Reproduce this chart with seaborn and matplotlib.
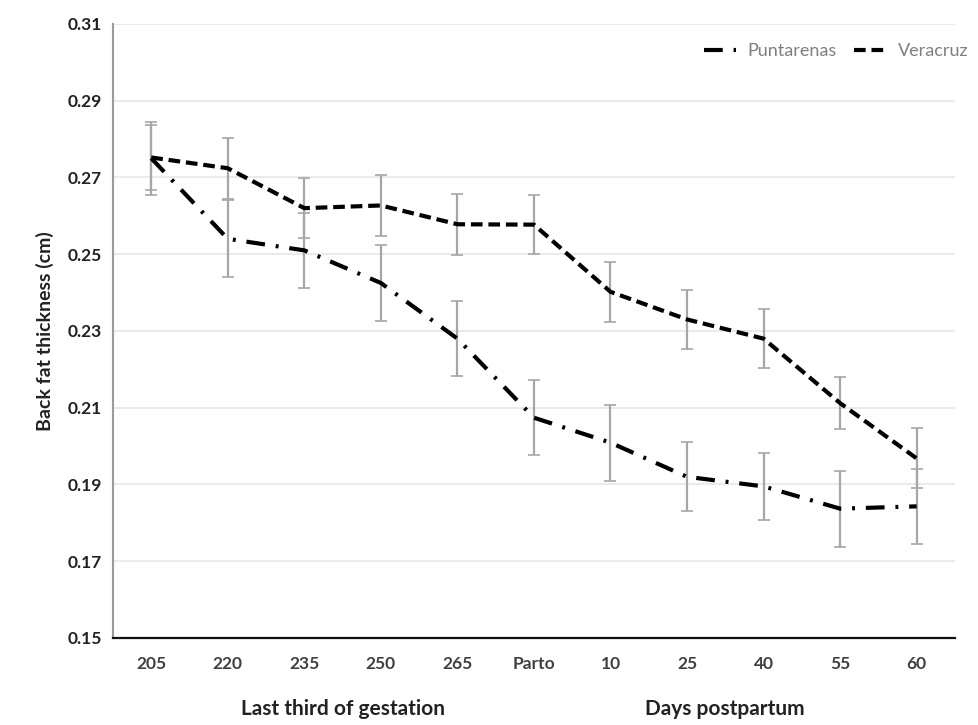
import numpy as np
import pandas as pd
import matplotlib
matplotlib.use('Agg')
import matplotlib.pyplot as plt
import seaborn as sns

# Data
days = ['205', '220', '235', '250', '265', 'Parto', '10', '25', '40', '55', '60']
puntarenas = [0.275, 0.254, 0.251, 0.2425, 0.228, 0.2074, 0.2009, 0.192, 0.1895, 0.1837, 0.1843]
puntarenas_err = [0.0095, 0.010, 0.0097, 0.010, 0.0097, 0.0098, 0.0099, 0.009, 0.0087, 0.0099, 0.0098]
veracruz = [0.2752, 0.2724, 0.2620, 0.2627, 0.2578, 0.2577, 0.2402, 0.2330, 0.2280, 0.2112, 0.1968]
veracruz_err = [0.0085, 0.0080, 0.0078, 0.0080, 0.0080, 0.0077, 0.0078, 0.0077, 0.0077, 0.0068, 0.0078]
yticks = [0.15, 0.17, 0.19, 0.21, 0.23, 0.25, 0.27, 0.29, 0.31]

df = pd.DataFrame({
    'day': days * 2,
    'value': puntarenas + veracruz,
    'site': ['Puntarenas'] * len(days) + ['Veracruz'] * len(days),
})

sns.set_style('white')
plt.rcParams['font.family'] = ['Lato', 'DejaVu Sans']

fig = plt.figure(figsize=(9.79, 7.25), dpi=100)
ax = fig.add_axes([0.1154, 0.12, 0.860, 0.847])

x = np.arange(len(days))
# error bars first so the lines sit on top
ax.errorbar(x, puntarenas, yerr=puntarenas_err, fmt='none', ecolor='#a6a6a6',
            elinewidth=1.6, capsize=4, capthick=1.2, zorder=2)
ax.errorbar(x, veracruz, yerr=veracruz_err, fmt='none', ecolor='#a6a6a6',
            elinewidth=1.6, capsize=4, capthick=1.2, zorder=2)

sns.lineplot(data=df, x='day', y='value', style='site', color='black',
             dashes={'Puntarenas': (4.5, 2.6, 0.7, 2.6), 'Veracruz': (2.8, 1.4)},
             linewidth=3.0, sort=False, ax=ax, zorder=3)

ax.set_xlim(-0.5, len(days) - 0.5)
ax.set_ylim(0.15, 0.31)
ax.set_yticks(yticks)
ax.set_yticklabels([f'{v:.2f}' for v in yticks])
ax.yaxis.grid(True, color='#e6e6e6', linewidth=1.2)
ax.set_axisbelow(True)

for s in ['top', 'right']:
    ax.spines[s].set_visible(False)
ax.spines['left'].set_color('#9a9a9a')
ax.spines['left'].set_linewidth(1.5)
ax.spines['bottom'].set_color('#111111')
ax.spines['bottom'].set_linewidth(1.6)

ax.tick_params(axis='x', length=0, pad=13, labelsize=12.5, labelcolor='#404040')
ax.tick_params(axis='y', length=0, pad=8, labelsize=12.5, labelcolor='#222222')
for lbl in ax.get_xticklabels() + ax.get_yticklabels():
    lbl.set_fontweight('bold')

ax.set_xlabel('')
ax.set_ylabel('Back fat thickness (cm)', fontsize=14, fontweight='bold', color='#222222', labelpad=10)

# group labels under the x axis
ax.text(2.5, -0.115, 'Last third of gestation', transform=ax.get_xaxis_transform(),
        ha='center', va='center', fontsize=15, fontweight='bold', color='#222222')
ax.text(7.5, -0.115, 'Days postpartum', transform=ax.get_xaxis_transform(),
        ha='center', va='center', fontsize=15, fontweight='bold', color='#222222')

leg = ax.legend(loc='upper right', bbox_to_anchor=(1.035, 0.995), ncol=2, frameon=False,
                fontsize=13, handlelength=1.8, columnspacing=1.0, handletextpad=0.6)
for t in leg.get_texts():
    t.set_color('#7f7f7f')

fig.savefig('out.png', dpi=100)
